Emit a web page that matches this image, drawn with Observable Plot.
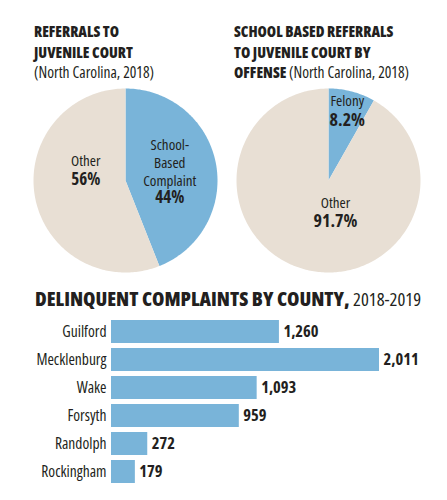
<!DOCTYPE html>
<html>
<head>
<meta charset="utf-8">
<script src="https://cdn.jsdelivr.net/npm/d3@7"></script>
<script src="https://cdn.jsdelivr.net/npm/@observablehq/plot@0.6"></script>
<style>
  html, body { margin: 0; padding: 0; background: #fff; }
  #root { position: relative; width: 447px; height: 500px; overflow: hidden; background: #fff;
    font-family: "Open Sans", sans-serif; font-stretch: 75%; color: #231f20; }
  .abs { position: absolute; }
  .ttl { font-weight: 800; font-size: 15px; line-height: 20.5px; white-space: nowrap; }
  .sub { font-weight: 400; font-size: 15.5px; }
  .big { font-weight: 800; font-size: 20px; line-height: 22px; white-space: nowrap; }
  .big span { font-weight: 400; font-size: 18.5px; }
  svg { overflow: visible; }
</style>
</head>
<body>
<div id="root">
  <div class="abs ttl" style="left:34px; top:21px;">REFERRALS TO<br>JUVENILE COURT<br><span class="sub">(North Carolina, 2018)</span></div>
  <div class="abs ttl" style="left:234px; top:21px;">SCHOOL BASED REFERRALS<br>TO JUVENILE COURT BY<br>OFFENSE <span class="sub">(North Carolina, 2018)</span></div>
  <div class="abs big" style="left:35px; top:287.5px;">DELINQUENT COMPLAINTS BY COUNTY, <span>2018-2019</span></div>
  <div id="pie1" class="abs" style="left:31px; top:86px;"></div>
  <div id="pie2" class="abs" style="left:234px; top:86px;"></div>
  <div id="bars" class="abs" style="left:0px; top:310px;"></div>
</div>
<script>
// ---- data ----
const pie1Slices = ["School-Based Complaint", "Other"];
const pie1Values = [44, 56];
const pie1Text = ["School-\nBased\nComplaint", "Other"];
const pie1Pct = ["44%", "56%"];

const pie2Slices = ["Felony", "Other"];
const pie2Values = [8.2, 91.7];
const pie2Text = ["Felony", "Other"];
const pie2Pct = ["8.2%", "91.7%"];

const countyNames = ["Guilford", "Mecklenburg", "Wake", "Forsyth", "Randolph", "Rockingham"];
const countyComplaints = [1260, 2011, 1093, 959, 272, 179];
const countyLabels = ["1,260", "2,011", "1,093", "959", "272", "179"];

// ---- styles ----
const BLUE = "#79b4d9";
const BEIGE = "#e8dfd4";
const INK = "#231f20";
const FONT = '"Open Sans", sans-serif';

function pieChart(slices, values, texts, pcts, colors, labelLayout, pctSize) {
  const arcs = d3.pie().sort(null).startAngle(0).endAngle(2 * Math.PI)(values);
  const pts = [];
  arcs.forEach((a, i) => {
    pts.push({slice: slices[i], x: 0, y: 0});
    const n = Math.max(4, Math.ceil((a.endAngle - a.startAngle) / (Math.PI / 180)));
    for (let k = 0; k <= n; k++) {
      const t = a.startAngle + (a.endAngle - a.startAngle) * k / n;
      pts.push({slice: slices[i], x: Math.sin(t), y: Math.cos(t)});
    }
  });
  const labels = arcs.map((a, i) => {
    const mid = (a.startAngle + a.endAngle) / 2;
    const L = labelLayout[i];
    return {slice: slices[i], text: texts[i], pct: pcts[i],
      x: L.r * Math.sin(mid), y: L.r * Math.cos(mid), dx: L.dx, dy: L.dy, gap: L.gap};
  });
  return Plot.plot({
    width: 188, height: 188, margin: 2,
    x: {domain: [-1, 1], axis: null},
    y: {domain: [-1, 1], axis: null},
    color: {domain: slices, range: colors},
    style: {fontFamily: FONT, fontStretch: "75%", background: "transparent", color: INK},
    marks: [
      Plot.line(pts, {x: "x", y: "y", z: "slice", fill: "slice", stroke: "none", curve: "linear-closed"}),
      ...labels.map(l => Plot.text([l], {x: "x", y: "y", text: "text", dx: l.dx, dy: l.dy,
        lineAnchor: "bottom", lineHeight: 1.17, fontSize: 15, fill: INK})),
      ...labels.map(l => Plot.text([l], {x: "x", y: "y", text: "pct", dx: l.dx, dy: l.dy + l.gap,
        lineAnchor: "bottom", fontSize: pctSize, fontWeight: "bold", fill: INK}))
    ]
  });
}

document.getElementById("pie1").appendChild(pieChart(
  pie1Slices, pie1Values, pie1Text, pie1Pct, [BLUE, BEIGE],
  [{r: 0.49, dx: 0, dy: 13.5, gap: 17}, {r: 0.44, dx: 0, dy: -21.6, gap: 19}], 17));

document.getElementById("pie2").appendChild(pieChart(
  pie2Slices, pie2Values, pie2Text, pie2Pct, [BLUE, BEIGE],
  [{r: 0.8, dx: 0, dy: -3, gap: 20}, {r: 0.3, dx: 14, dy: 1, gap: 19}], 18));

const rows = countyNames.map((c, i) => ({county: c, value: countyComplaints[i], label: countyLabels[i]}));

document.getElementById("bars").appendChild(Plot.plot({
  width: 447, height: 185,
  marginTop: 3.6, marginBottom: 5.6, marginLeft: 111, marginRight: 68,
  x: {domain: [0, d3.max(countyComplaints)], axis: null},
  y: {domain: countyNames, padding: 0.19, label: null},
  style: {fontFamily: FONT, fontStretch: "75%", fontSize: "15.5px", background: "transparent", color: INK},
  marks: [
    Plot.barX(rows, {x: "value", y: "county", fill: BLUE}),
    Plot.text(rows, {x: "value", y: "county", text: "label", dx: 4, textAnchor: "start",
      fontSize: 16.5, fontWeight: "bold", fill: INK}),
    Plot.axisY({tickSize: 0, tickPadding: 5, label: null, fontSize: 15.5, fill: INK})
  ]
}));
</script>
</body>
</html>
